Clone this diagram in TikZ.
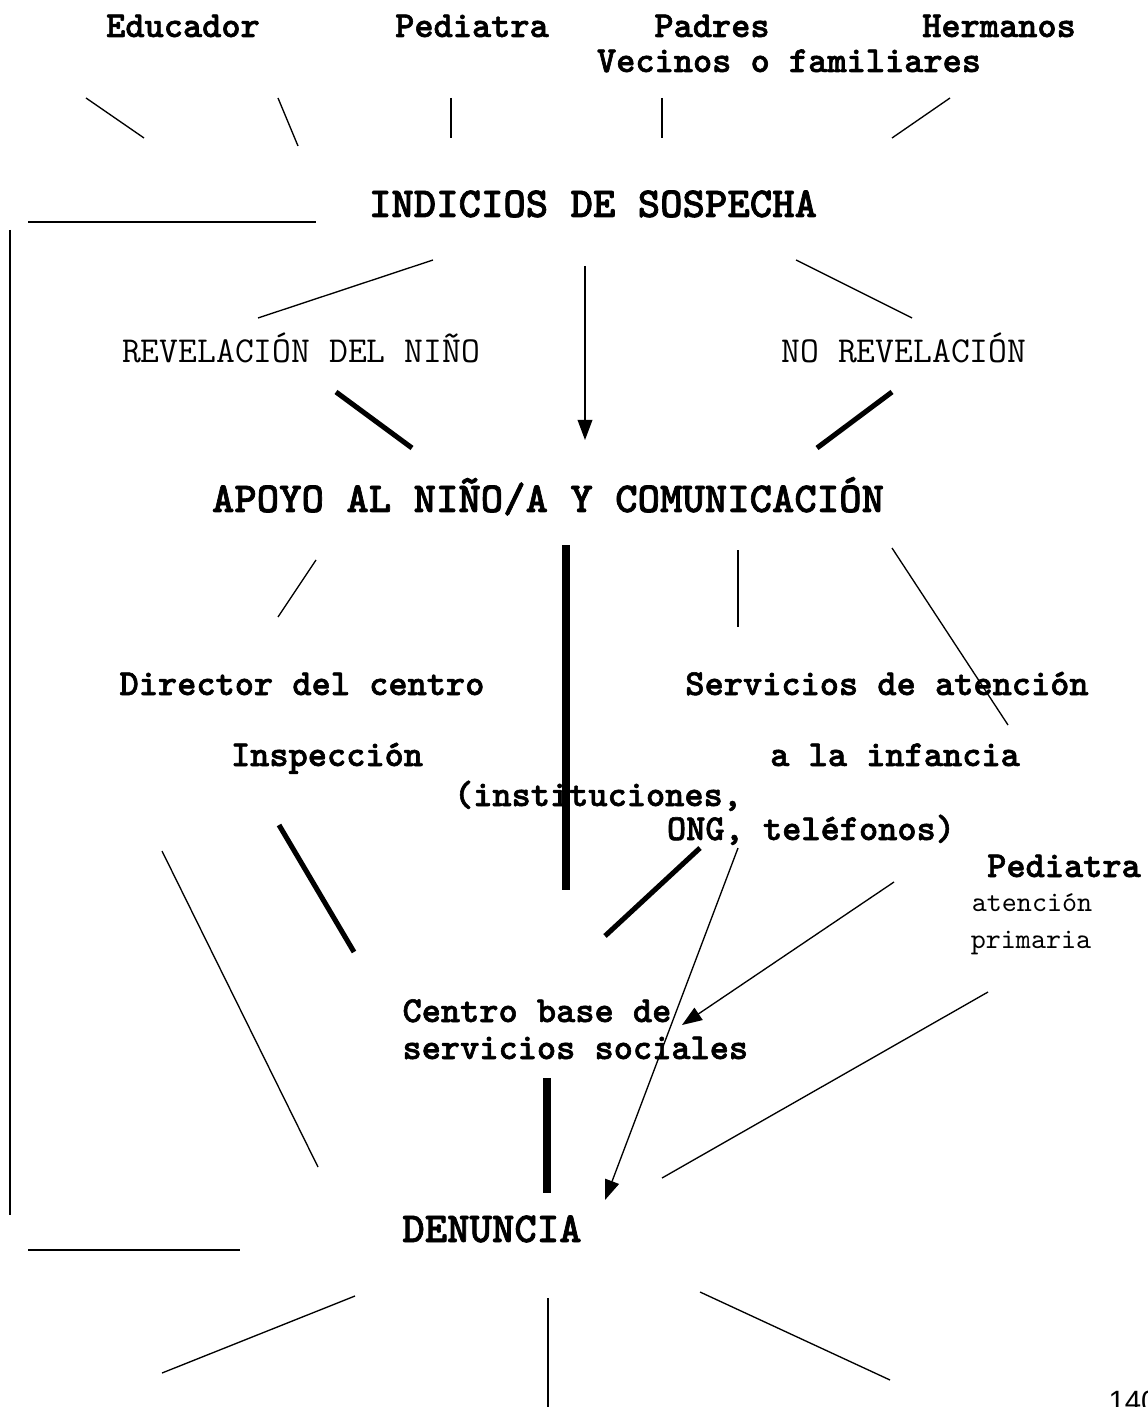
\documentclass[tikz,border=0pt]{standalone}
\usepackage{fontspec}
\setmonofont{Latin Modern Mono}[Scale=1.1429, BoldFont=LMMonoLt10-Bold, BoldFeatures={FakeBold=1.6}]
\setsansfont{Liberation Sans}
\usetikzlibrary{arrows.meta}

\begin{document}
\begin{tikzpicture}[
    x=0.375pt, y=-0.375pt,
    big/.style={font=\ttfamily\bfseries\fontsize{14}{16}\selectfont, inner sep=0pt, anchor=base},
    mid/.style={font=\ttfamily\bfseries\fontsize{12}{14}\selectfont, inner sep=0pt, anchor=base},
    plain/.style={font=\ttfamily\fontsize{12}{14}\selectfont, inner sep=0pt, anchor=base},
    small/.style={font=\ttfamily\fontsize{9.4}{11}\selectfont, inner sep=0pt, anchor=base},
    link/.style={line width=0.5pt},
    frame/.style={line width=0.75pt},
    heavy/.style={line width=1.9pt},
    bar/.style={line width=3pt},
    arrow/.style={line width=0.5pt, -{Triangle[length=7.5pt, width=5.5pt]}}
]
\useasboundingbox (0,0) rectangle (1147,1407);

% Informants
\node[mid] (educador) at (183,37) {Educador};
\node[mid] (pediatra) at (472,37) {Pediatra};
\node[mid] (padres) at (712,37) {Padres};
\node[mid] (hermanos) at (999,37) {Hermanos};
\node[mid] (vecinos) at (789,72) {Vecinos o familiares};

% Suspicion
\node[big] (indicios) at (593,217) {INDICIOS DE SOSPECHA};
\node[plain] (revelacion) at (301,363) {REVELACIÓN DEL NIÑO};
\node[plain] (norevelacion) at (904,363) {NO REVELACIÓN};

% Support
\node[big] (apoyo) at (548,512) {APOYO AL NIÑO/A Y COMUNICACIÓN};
\node[mid] (director) at (302,695) {Director del centro};
\node[mid] (inspeccion) at (327,766) {Inspección};
\node[mid] (servicios) at (887,695) {Servicios de atención};
\node[mid] (infancia) at (895,766) {a la infancia};
\node[mid] (instituciones) at (598,806) {(instituciones,};
\node[mid] (ong) at (811,840) {ONG, teléfonos)};
\node[mid] (pediatraap) at (1064,877) {Pediatra};
\node[small] (atencion) at (1032,911) {atención};
\node[small] (primaria) at (1031,948) {primaria};

% Social services
\node[mid, anchor=base west] (centro) at (402,1022) {Centro base de};
\node[mid, anchor=base west] (sociales) at (402,1059) {servicios sociales};

% Report
\node[big] (denuncia) at (492,1242) {DENUNCIA};
\node[anchor=base west, font=\sffamily\fontsize{11}{13}\selectfont, inner sep=0pt] (pagina) at (1108,1411) {140};

% Left frame
\coordinate (f1) at (28,222); \coordinate (f2) at (316,222);
\coordinate (f3) at (10,230); \coordinate (f4) at (10,1215);
\coordinate (f5) at (28,1250); \coordinate (f6) at (240,1250);
\draw[frame] (f1) -- (f2);
\draw[link] (f3) -- (f4);
\draw[frame] (f5) -- (f6);

% Lines below the informants
\coordinate (a1) at (86,98); \coordinate (a2) at (144,138);
\coordinate (b1) at (278,98); \coordinate (b2) at (298,146);
\coordinate (c1) at (451,98); \coordinate (c2) at (451,138);
\coordinate (d1) at (662,98); \coordinate (d2) at (662,138);
\coordinate (g1) at (950,98); \coordinate (g2) at (892,138);
\draw[link] (a1) -- (a2);
\draw[link] (b1) -- (b2);
\draw[link] (c1) -- (c2);
\draw[link] (d1) -- (d2);
\draw[link] (g1) -- (g2);

% Lines below the suspicion
\coordinate (h1) at (433,260); \coordinate (h2) at (258,318);
\coordinate (i1) at (585,266); \coordinate (i2) at (585,440);
\coordinate (j1) at (796,260); \coordinate (j2) at (912,318);
\coordinate (k1) at (336,392); \coordinate (k2) at (412,448);
\coordinate (l1) at (892,392); \coordinate (l2) at (817,448);
\draw[link] (h1) -- (h2);
\draw[arrow] (i1) -- (i2);
\draw[link] (j1) -- (j2);
\draw[heavy] (k1) -- (k2);
\draw[heavy] (l1) -- (l2);

% Lines below the support
\coordinate (m1) at (316,560); \coordinate (m2) at (278,617);
\coordinate (n1) at (566,545); \coordinate (n2) at (566,890);
\coordinate (o1) at (738,550); \coordinate (o2) at (738,627);
\coordinate (p1) at (892,548); \coordinate (p2) at (1008,725);
\draw[link] (m1) -- (m2);
\draw[bar] (n1) -- (n2);
\draw[link] (o1) -- (o2);
\draw[link] (p1) -- (p2);

% Lines towards social services and report
\coordinate (q1) at (279,825); \coordinate (q2) at (354,952);
\coordinate (r1) at (162,851); \coordinate (r2) at (318,1167);
\coordinate (s1) at (700,848); \coordinate (s2) at (605,936);
\coordinate (t1) at (738,848); \coordinate (t2) at (605,1200);
\coordinate (u1) at (894,882); \coordinate (u2) at (682,1025);
\coordinate (v1) at (988,992); \coordinate (v2) at (662,1178);
\coordinate (w1) at (547,1078); \coordinate (w2) at (547,1193);
\draw[heavy] (q1) -- (q2);
\draw[link] (r1) -- (r2);
\draw[heavy] (s1) -- (s2);
\draw[arrow] (t1) -- (t2);
\draw[arrow] (u1) -- (u2);
\draw[link] (v1) -- (v2);
\draw[bar] (w1) -- (w2);

% Lines below the report
\coordinate (x1) at (355,1296); \coordinate (x2) at (162,1373);
\coordinate (y1) at (548,1298); \coordinate (y2) at (548,1407);
\coordinate (z1) at (700,1292); \coordinate (z2) at (890,1380);
\draw[link] (x1) -- (x2);
\draw[link] (y1) -- (y2);
\draw[link] (z1) -- (z2);

\end{tikzpicture}
\end{document}
